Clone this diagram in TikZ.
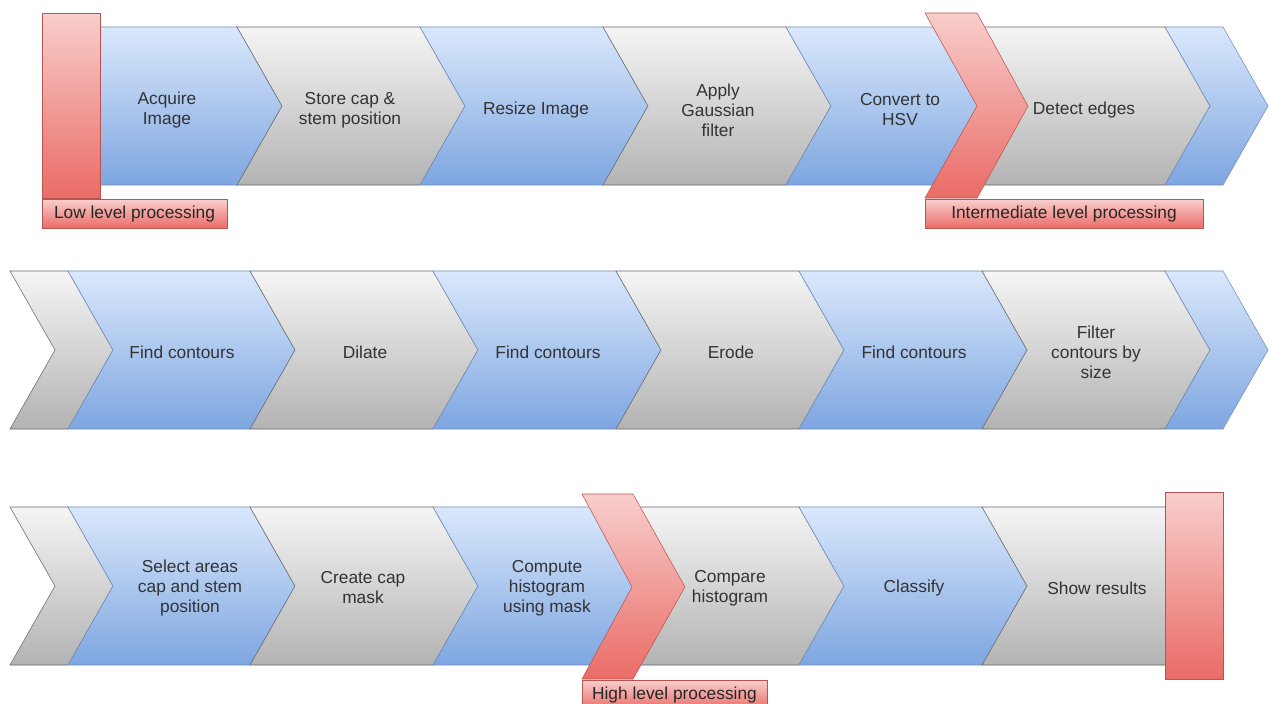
\documentclass[tikz,border=0pt]{standalone}
\usepackage{fontspec}
\setmainfont{Liberation Sans}
\usepackage{xcolor}
\usetikzlibrary{positioning}

\definecolor{blueline}{HTML}{6C8EBF}
\definecolor{bluetop}{HTML}{DAE8FC}
\definecolor{bluebot}{HTML}{7EA6E0}
\definecolor{grayline}{HTML}{666666}
\definecolor{graytop}{HTML}{F5F5F5}
\definecolor{graybot}{HTML}{B3B3B3}
\definecolor{redline}{HTML}{B85450}
\definecolor{redtop}{HTML}{F8CECC}
\definecolor{redbot}{HTML}{EA6B66}
\definecolor{txtgray}{HTML}{333333}

\begin{document}
\begin{tikzpicture}[
    x=0.75pt, y=-0.75pt,
    bluechev/.style={draw=blueline, top color=bluetop, bottom color=bluebot},
    graychev/.style={draw=grayline, top color=graytop, bottom color=graybot},
    redmark/.style={draw=redline, top color=redtop, bottom color=redbot},
    levelbox/.style={redmark, inner sep=0pt, minimum height=21.75pt, font=\fontsize{13}{15}\selectfont, text=black!85},
    steptext/.style={align=center, text=txtgray, font=\fontsize{13}{15}\selectfont}
]
\useasboundingbox (0,0) rectangle (1270,703);

% ---- Row 1 ----
\foreach \x/\w/\s in {54/183/bluechev, 237/183/graychev, 420/183/bluechev, 603/183/graychev,
                      786/183/bluechev, 982/183/graychev, 1165/58/bluechev}
  { \draw[\s] (\x,27) -- ++(\w,0) -- ++(45,79) -- ++(-45,79) -- ++(-\w,0) -- ++(45,-79) -- cycle; }
\node[steptext] (acquire) at (167,110) {Acquire\\Image};
\node[steptext] (store)   at (350,110) {Store cap \&\\stem position};
\node[steptext] (resize)  at (536,110) {Resize Image};
\node[steptext] (gauss)   at (718,110) {Apply\\Gaussian\\filter};
\node[steptext] (hsv)     at (900,110) {Convert to\\HSV};
\node[steptext] (edges)   at (1084,110) {Detect edges};

% low level marker
\draw[redmark] (42,13) rectangle (100,198);
\node[levelbox, minimum width=138.75pt] (lowlvl) at (134.5,214) {Low level processing};

% intermediate level marker
\draw[redmark] (925,13) -- (977,13) -- (1028,106) -- (977,198) -- (925,198) -- (977,106) -- cycle;
\node[levelbox, minimum width=208.5pt] (midlvl) at (1064,214) {Intermediate level processing};

% ---- Row 2 ----
\foreach \x/\w/\s in {10/58/graychev, 68/182/bluechev, 250/183/graychev, 433/183/bluechev,
                      616/183/graychev, 799/183/bluechev, 982/183/graychev, 1165/58/bluechev}
  { \draw[\s] (\x,271) -- ++(\w,0) -- ++(45,79) -- ++(-45,79) -- ++(-\w,0) -- ++(45,-79) -- cycle; }
\node[steptext] (contA)  at (182,352) {Find contours};
\node[steptext] (dilate) at (365,352) {Dilate};
\node[steptext] (contB)  at (548,352) {Find contours};
\node[steptext] (erode)  at (731,352) {Erode};
\node[steptext] (contC)  at (914,352) {Find contours};
\node[steptext] (filter) at (1096,352) {Filter\\contours by\\size};

% ---- Row 3 ----
\foreach \x/\w/\s in {10/58/graychev, 68/182/bluechev, 250/183/graychev, 433/183/bluechev,
                      616/183/graychev, 799/183/bluechev, 982/183/graychev}
  { \draw[\s] (\x,507) -- ++(\w,0) -- ++(45,79) -- ++(-45,79) -- ++(-\w,0) -- ++(45,-79) -- cycle; }
\node[steptext] (select)   at (190,588) {Select areas\\cap and stem\\position};
\node[steptext] (capmask)  at (363,588) {Create cap\\mask};
\node[steptext] (histo)    at (547,588) {Compute\\histogram\\using mask};
\node[steptext] (classify) at (914,588) {Classify};
\node[steptext] (show)     at (1097,588) {Show results};

% high level marker
\draw[redmark] (582,494) -- (633,494) -- (685,587) -- (633,679) -- (582,679) -- (632,587) -- cycle;
\node[levelbox, minimum width=138.75pt, minimum height=22.5pt] (highlvl) at (674.5,695) {High level processing};
\node[steptext] (compare)  at (730,588) {Compare\\histogram};

% end marker
\draw[redmark] (1165,492) rectangle (1223,679);

\end{tikzpicture}
\end{document}
